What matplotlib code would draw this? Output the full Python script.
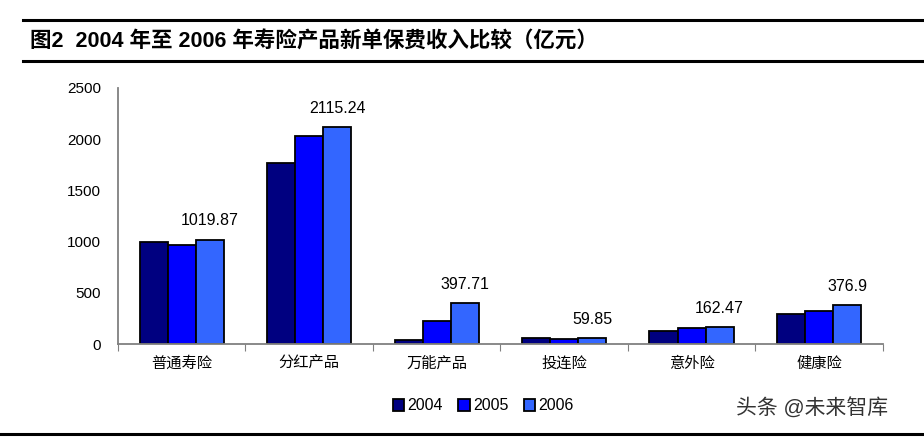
import matplotlib.pyplot as plt
import numpy as np
from matplotlib.lines import Line2D

plt.rcParams['font.family'] = ['Liberation Sans', 'Noto Sans CJK SC', 'DejaVu Sans']

categories = ['普通寿险', '分红产品', '万能产品', '投连险', '意外险', '健康险']
years = ['2004', '2005', '2006']
v2004 = [994, 1768, 39, 55, 127, 290]
v2005 = [964, 2031, 221, 52, 156, 322]
v2006 = [1019.87, 2115.24, 397.71, 59.85, 162.47, 376.9]
labels2006 = ['1019.87', '2115.24', '397.71', '59.85', '162.47', '376.9']
colors = ['#000080', '#0000FF', '#3366FF']

fig = plt.figure(figsize=(9.24, 4.38), dpi=100)
ax = fig.add_axes([0.1277, 0.2146, 0.8276, 0.5845])

x = np.arange(len(categories))
w = 0.22
for i, (vals, c, yr) in enumerate(zip([v2004, v2005, v2006], colors, years)):
    ax.bar(x + (i - 1) * w, vals, w, color=c, edgecolor='black', linewidth=1.3, label=yr)

for xi, v, t in zip(x, v2006, labels2006):
    ax.annotate(t, (xi + w, v), xytext=(0, 8), textcoords='offset points',
                ha='center', va='bottom', fontsize=11.5)

ax.set_xlim(-0.5, len(categories) - 0.5)
ax.set_ylim(0, 2500)
ax.set_yticks(range(0, 2501, 500))
ax.set_xticks(np.arange(-0.5, len(categories), 1.0))
ax.set_xticklabels([])
ax.set_xticks(x, minor=True)
ax.set_xticklabels(categories, minor=True, fontsize=11)
ax.tick_params(axis='x', which='minor', length=0, pad=9)
ax.tick_params(axis='x', which='major', length=5, color='#808080')
ax.tick_params(axis='y', length=0, labelsize=11, pad=12)
for s in ['top', 'right']:
    ax.spines[s].set_visible(False)
for s in ['left', 'bottom']:
    ax.spines[s].set_color('#808080')
    ax.spines[s].set_linewidth(1.3)

# title block
fig.add_artist(Line2D([0.025, 1.0], [1 - 20 / 438] * 2, color='black', lw=2.2))
fig.add_artist(Line2D([0.025, 1.0], [1 - 61 / 438] * 2, color='black', lw=2.2))
fig.add_artist(Line2D([0.0, 1.0], [1 - 434 / 438] * 2, color='black', lw=2.2))
fig.text(0.033, 1 - 42 / 438, '图2  2004 年至 2006 年寿险产品新单保费收入比较（亿元）',
         fontsize=15.5, fontweight='bold', va='center', ha='left')

fig.legend(loc='center', bbox_to_anchor=(0.523, 1 - 406 / 438), ncol=3, frameon=False,
           fontsize=11.5, handlelength=0.7, handleheight=0.7, handletextpad=0.2,
           columnspacing=1.0)

fig.text(0.797, 1 - 408 / 438, '头条 @未来智库', fontsize=15, color='#333333',
         va='center', ha='left')

fig.savefig('out.png', dpi=100)
